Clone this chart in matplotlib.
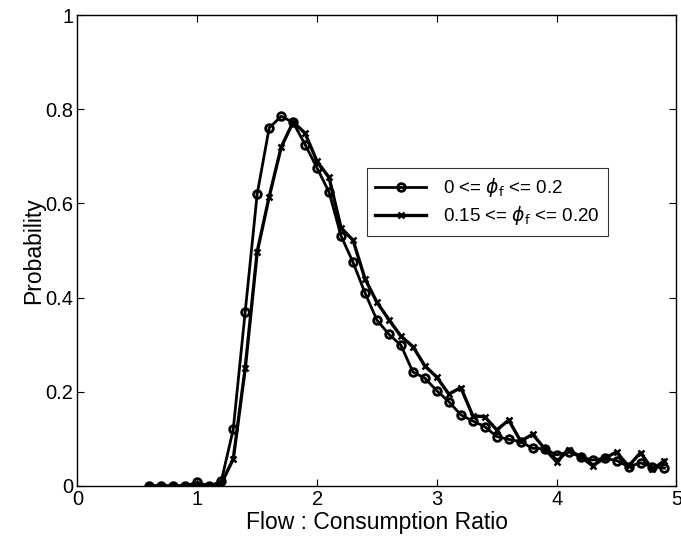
import numpy as np
import matplotlib
matplotlib.use('Agg')
import matplotlib.pyplot as plt

plt.rcParams['font.family'] = ['Liberation Sans', 'DejaVu Sans']
plt.rcParams['mathtext.fontset'] = 'dejavusans'

# flow : consumption ratio bins
ratio = [0.6, 0.7, 0.8, 0.9, 1.0, 1.1, 1.2, 1.3, 1.4, 1.5,
         1.6, 1.7, 1.8, 1.9, 2.0, 2.1, 2.2, 2.3, 2.4, 2.5,
         2.6, 2.7, 2.8, 2.9, 3.0, 3.1, 3.2, 3.3, 3.4, 3.5,
         3.6, 3.7, 3.8, 3.9, 4.0, 4.1, 4.2, 4.3, 4.4, 4.5,
         4.6, 4.7, 4.8, 4.9]

# 0 <= phi_f <= 0.2  (circles)
prob_all = [0.0, 0.0, 0.0, 0.0, 0.008, 0.0, 0.01, 0.12, 0.37, 0.62,
            0.76, 0.785, 0.772, 0.725, 0.675, 0.624, 0.531, 0.475, 0.41, 0.352,
            0.322, 0.299, 0.242, 0.229, 0.202, 0.179, 0.151, 0.138, 0.126, 0.105,
            0.099, 0.094, 0.08, 0.079, 0.066, 0.072, 0.062, 0.055, 0.059, 0.054,
            0.041, 0.049, 0.041, 0.038]

# 0.15 <= phi_f <= 0.20  (crosses)
prob_sub = [0.0, 0.0, 0.0, 0.0, 0.0, 0.0, 0.005, 0.057, 0.25, 0.497,
            0.614, 0.719, 0.773, 0.749, 0.689, 0.655, 0.548, 0.522, 0.44, 0.39,
            0.353, 0.318, 0.296, 0.255, 0.231, 0.195, 0.209, 0.149, 0.147, 0.119,
            0.14, 0.095, 0.11, 0.079, 0.051, 0.077, 0.062, 0.043, 0.059, 0.072,
            0.042, 0.071, 0.035, 0.054]

fig = plt.figure(figsize=(6.81, 5.5), dpi=100)
ax = fig.add_axes([0.1138, 0.1164, 0.8795, 0.8563])

ax.plot(ratio, prob_all, color='black', lw=2.0, marker='o', ms=5.5,
        mfc='none', mew=2.0, label=r'0 <= $\phi_\mathrm{f}$ <= 0.2')
ax.plot(ratio, prob_sub, color='black', lw=2.4, marker='x', ms=4.5,
        mew=1.8, label=r'0.15 <= $\phi_\mathrm{f}$ <= 0.20')

ax.set_xlim(0, 5)
ax.set_ylim(0, 1)
ax.set_xticks([0, 1, 2, 3, 4, 5])
ax.set_yticks([0, 0.2, 0.4, 0.6, 0.8, 1])
ax.set_yticklabels(['0', '0.2', '0.4', '0.6', '0.8', '1'])
ax.tick_params(direction='in', length=5, width=0.8, top=True, right=True,
               labelsize=14.5, pad=3)
for s in ax.spines.values():
    s.set_linewidth(1.0)

ax.set_xlabel('Flow : Consumption Ratio', fontsize=16.5, labelpad=1)
ax.set_ylabel('Probability', fontsize=16.5, labelpad=0)

leg = ax.legend(loc='upper left', bbox_to_anchor=(0.539, 0.6945),
                bbox_transform=fig.transFigure, fontsize=13.5,
                frameon=True, fancybox=False, edgecolor='black',
                handlelength=2.7, borderpad=0.45, labelspacing=0.25,
                handletextpad=0.9, borderaxespad=0)
leg.get_frame().set_linewidth(0.8)

fig.savefig('out.png', dpi=100)
